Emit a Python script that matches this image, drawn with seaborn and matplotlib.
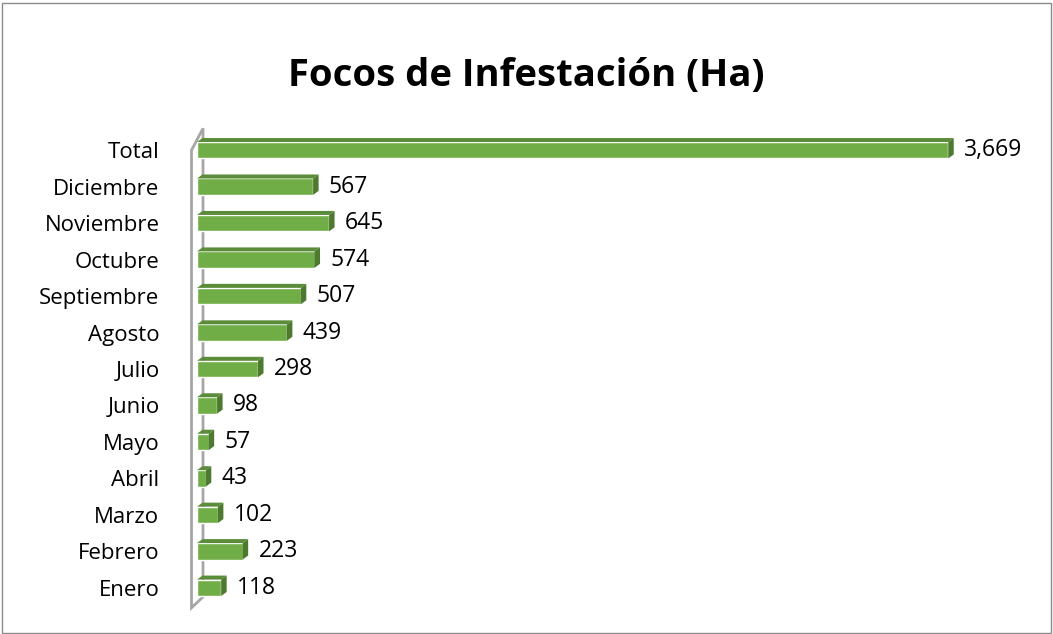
import matplotlib
matplotlib.use("Agg")
import matplotlib.pyplot as plt
import seaborn as sns
import pandas as pd
from matplotlib.patches import Polygon, Rectangle

meses = ['Total', 'Diciembre', 'Noviembre', 'Octubre', 'Septiembre', 'Agosto',
         'Julio', 'Junio', 'Mayo', 'Abril', 'Marzo', 'Febrero', 'Enero']
hectareas = [3669, 567, 645, 574, 507, 439, 298, 98, 57, 43, 102, 223, 118]

df = pd.DataFrame({'Mes': meses, 'Ha': hectareas})

sns.set_style("white")
plt.rcParams['font.family'] = ['Open Sans', 'DejaVu Sans']
plt.rcParams['text.color'] = 'black'
plt.rcParams['ytick.color'] = 'black'

fig = plt.figure(figsize=(10.53, 6.34), dpi=100)
# chart border
fig.patches.append(Rectangle((0.002, 0.002), 0.996, 0.994, transform=fig.transFigure,
                             fill=False, edgecolor='#8c8c8c', linewidth=1))
ax = fig.add_axes([197 / 1053, 1 - 606 / 634, 819 / 1053, (606 - 132) / 634])

sns.barplot(data=df, x='Ha', y='Mes', orient='h', color='#70ad47',
            saturation=1, width=0.45, ax=ax, zorder=3)
ax.set_xlim(0, 4000)
ax.set_ylim(12.5, -0.5)

# 3D look: top face and right face for each bar (offset in pixels)
dx, dy = 5.5 / 819 * 4000, 4.0 / 36.46
for p in ax.patches:
    x0, y0 = p.get_x(), p.get_y()
    w, h = p.get_width(), p.get_height()
    top = Polygon([(x0, y0), (x0 + w, y0), (x0 + w + dx, y0 - dy), (x0 + dx, y0 - dy)],
                  closed=True, facecolor='#5b8c3a', edgecolor='none', zorder=3)
    side = Polygon([(x0 + w, y0), (x0 + w + dx, y0 - dy), (x0 + w + dx, y0 + h - dy),
                    (x0 + w, y0 + h)],
                   closed=True, facecolor='#4e7a2f', edgecolor='none', zorder=3)
    ax.add_patch(top)
    ax.add_patch(side)

for i, v in enumerate(hectareas):
    ax.text(v + dx + 50, i, f'{v:,}', va='center', ha='left', fontsize=16.5, color='black')

# left wall
wall = Polygon([(-5.5 / 819 * 4000, 12.55), (-5.5 / 819 * 4000, -0.0),
                (6 / 819 * 4000, -0.6), (6 / 819 * 4000, 12.25)],
               closed=True, facecolor='white', edgecolor='#a6a6a6', linewidth=2,
               clip_on=False, zorder=1)
ax.add_patch(wall)

for s in ax.spines.values():
    s.set_visible(False)
ax.set_xticks([])
ax.set_xlabel('')
ax.set_ylabel('')
ax.tick_params(axis='y', length=0, pad=27, labelsize=16)

fig.text(0.5, 1 - 76 / 634, 'Focos de Infestación (Ha)', ha='center', va='center',
         fontsize=27.5, fontweight='bold')

fig.savefig('out.png', dpi=100)
